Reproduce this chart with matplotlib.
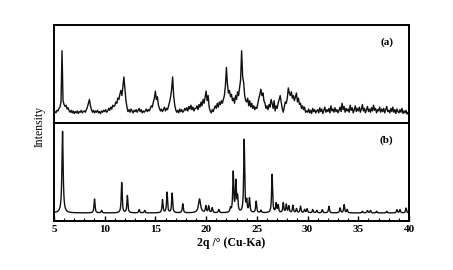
import numpy as np
import matplotlib.pyplot as plt

# (a) experimental pattern, read every 0.1 deg from 5.0 to 40.0 (one row per degree)
exp_rows = [
    [0.02, 0.05, 0.03, 0.07, 0.06, 0.10, 0.12, 0.20, 1.00, 0.22],  # 5
    [0.16, 0.13, 0.15, 0.09, 0.11, 0.06, 0.04, 0.07, 0.03, 0.06],  # 6
    [0.02, 0.05, 0.03, 0.06, 0.02, 0.05, 0.04, 0.07, 0.03, 0.05],  # 7
    [0.06, 0.04, 0.08, 0.12, 0.18, 0.24, 0.14, 0.08, 0.04, 0.07],  # 8
    [0.03, 0.06, 0.04, 0.07, 0.03, 0.05, 0.02, 0.06, 0.04, 0.07],  # 9
    [0.05, 0.08, 0.04, 0.06, 0.10, 0.07, 0.12, 0.09, 0.15, 0.13],  # 10
    [0.14, 0.20, 0.18, 0.26, 0.24, 0.32, 0.38, 0.30, 0.45, 0.59],  # 11
    [0.40, 0.22, 0.12, 0.05, 0.08, 0.04, 0.09, 0.06, 0.03, 0.07],  # 12
    [0.05, 0.08, 0.04, 0.07, 0.10, 0.05, 0.08, 0.03, 0.06, 0.04],  # 13
    [0.06, 0.09, 0.05, 0.08, 0.06, 0.10, 0.14, 0.12, 0.20, 0.26],  # 14
    [0.37, 0.24, 0.28, 0.15, 0.10, 0.06, 0.09, 0.05, 0.08, 0.12],  # 15
    [0.06, 0.10, 0.08, 0.14, 0.20, 0.28, 0.40, 0.59, 0.30, 0.16],  # 16
    [0.08, 0.04, 0.07, 0.03, 0.09, 0.05, 0.08, 0.04, 0.06, 0.10],  # 17
    [0.07, 0.11, 0.06, 0.13, 0.09, 0.15, 0.08, 0.12, 0.06, 0.10],  # 18
    [0.10, 0.14, 0.08, 0.16, 0.12, 0.20, 0.14, 0.24, 0.18, 0.28],  # 19
    [0.37, 0.22, 0.30, 0.12, 0.06, 0.03, 0.08, 0.05, 0.10, 0.14],  # 20
    [0.10, 0.18, 0.12, 0.20, 0.16, 0.22, 0.18, 0.24, 0.30, 0.45],  # 21
    [0.74, 0.48, 0.34, 0.38, 0.28, 0.32, 0.22, 0.26, 0.18, 0.30],  # 22
    [0.24, 0.36, 0.30, 0.42, 0.55, 1.00, 0.60, 0.50, 0.30, 0.22],  # 23
    [0.20, 0.26, 0.14, 0.22, 0.12, 0.18, 0.10, 0.14, 0.08, 0.12],  # 24
    [0.10, 0.18, 0.26, 0.32, 0.40, 0.30, 0.34, 0.22, 0.18, 0.10],  # 25
    [0.14, 0.08, 0.16, 0.12, 0.24, 0.18, 0.10, 0.22, 0.06, 0.14],  # 26
    [0.10, 0.18, 0.24, 0.30, 0.20, 0.10, 0.04, 0.12, 0.20, 0.18],  # 27
    [0.26, 0.42, 0.34, 0.30, 0.36, 0.26, 0.30, 0.22, 0.28, 0.34],  # 28
    [0.20, 0.26, 0.16, 0.18, 0.10, 0.14, 0.08, 0.12, 0.04, 0.06],  # 29
    [0.04, 0.09, 0.03, 0.07, 0.02, 0.10, 0.05, 0.08, 0.03, 0.06],  # 30
    [0.08, 0.03, 0.11, 0.05, 0.09, 0.02, 0.07, 0.12, 0.04, 0.08],  # 31
    [0.05, 0.10, 0.03, 0.14, 0.06, 0.09, 0.04, 0.11, 0.05, 0.08],  # 32
    [0.03, 0.07, 0.12, 0.05, 0.18, 0.08, 0.13, 0.04, 0.10, 0.06],  # 33
    [0.09, 0.04, 0.15, 0.07, 0.11, 0.03, 0.08, 0.14, 0.05, 0.10],  # 34
    [0.06, 0.12, 0.04, 0.09, 0.16, 0.06, 0.10, 0.03, 0.08, 0.13],  # 35
    [0.05, 0.09, 0.04, 0.11, 0.06, 0.15, 0.07, 0.10, 0.03, 0.08],  # 36
    [0.06, 0.12, 0.04, 0.09, 0.05, 0.10, 0.03, 0.08, 0.13, 0.05],  # 37
    [0.07, 0.03, 0.10, 0.05, 0.12, 0.04, 0.08, 0.02, 0.09, 0.05],  # 38
    [0.03, 0.08, 0.04, 0.10, 0.02, 0.06, 0.03, 0.07, 0.01, 0.04],  # 39
]
exp_last = [0.02]  # 40.0

# (b) simulated pattern: peak positions (2theta), relative heights, widths
sim_pos = [5.85, 9.0, 9.7, 11.68, 12.24, 13.4, 13.95, 15.7, 16.15, 16.65,
           17.7, 19.35, 19.97, 20.25, 20.6, 21.25, 22.4, 22.67, 22.93, 23.1,
           23.75, 24.0, 24.27, 24.93, 25.4, 26.5, 26.9, 27.1, 27.6, 27.9,
           28.15, 28.55, 28.9, 29.3, 29.7, 29.95, 30.5, 30.9, 31.45, 32.1,
           33.2, 33.6, 33.9, 35.4, 35.9, 36.2, 36.8, 37.8, 38.8, 39.1, 39.7]
sim_height = [1.0, 0.17, 0.03, 0.37, 0.21, 0.04, 0.03, 0.16, 0.25, 0.24,
              0.11, 0.17, 0.08, 0.08, 0.06, 0.04, 0.05, 0.49, 0.37, 0.18,
              0.89, 0.13, 0.17, 0.14, 0.03, 0.47, 0.11, 0.09, 0.12, 0.10,
              0.08, 0.09, 0.05, 0.08, 0.04, 0.05, 0.04, 0.03, 0.04, 0.08,
              0.06, 0.10, 0.04, 0.02, 0.03, 0.03, 0.02, 0.02, 0.04, 0.04, 0.06]
sim_width = [0.14] + [0.11] * 10 + [0.25] + [0.11] * 39

x_labels = ["5", "10", "15", "20", "25", "30", "35", "40"]

exp_y = np.array([v for row in exp_rows for v in row] + exp_last)
exp_x = np.linspace(5, 40, len(exp_y))

sim_x = np.linspace(5, 40, 3501)
sim_y = np.zeros_like(sim_x)
for p, h, w in zip(sim_pos, sim_height, sim_width):
    hw = w / 2
    sim_y += h * hw**2 / ((sim_x - p)**2 + hw**2)

plt.rcParams['font.family'] = ['Liberation Serif', 'DejaVu Serif']

fig = plt.figure(figsize=(4.53, 2.70), dpi=100)
ax_a = fig.add_axes([0.119, 0.544, 0.784, 0.363])
ax_b = fig.add_axes([0.119, 0.181, 0.784, 0.363])

ax_a.plot(exp_x, exp_y, color="#111111", linewidth=1.0)
ax_b.plot(sim_x, sim_y, color="#111111", linewidth=1.0)

for ax in (ax_a, ax_b):
    ax.set_xlim(5, 40)
    ax.set_yticks([])
    for s in ax.spines.values():
        s.set_linewidth(1.4)
ax_a.set_ylim(-0.13, 1.4)
ax_b.set_ylim(-0.1, 1.1)

ax_a.set_xticks([])
ax_b.set_xticks([5, 10, 15, 20, 25, 30, 35, 40])
ax_b.set_xticklabels(x_labels, fontsize=8, fontweight="bold")
ax_b.set_xticks(np.arange(5, 41, 1), minor=True)
ax_b.tick_params(axis="x", which="major", direction="in", length=3.5, width=1, pad=3)
ax_b.tick_params(axis="x", which="minor", direction="in", length=2, width=0.8)

ax_a.text(0.937, 0.83, "(a)", transform=ax_a.transAxes, fontsize=8,
          fontweight="bold", ha="center", va="center")
ax_b.text(0.937, 0.83, "(b)", transform=ax_b.transAxes, fontsize=8,
          fontweight="bold", ha="center", va="center")

ax_b.set_xlabel("2q /° (Cu-Ka)", fontsize=8.5, fontweight="bold", labelpad=2)
fig.text(0.088, 0.53, "Intensity", rotation=90, fontsize=8.5,
         ha="center", va="center")

fig.savefig("out.png", dpi=100)
